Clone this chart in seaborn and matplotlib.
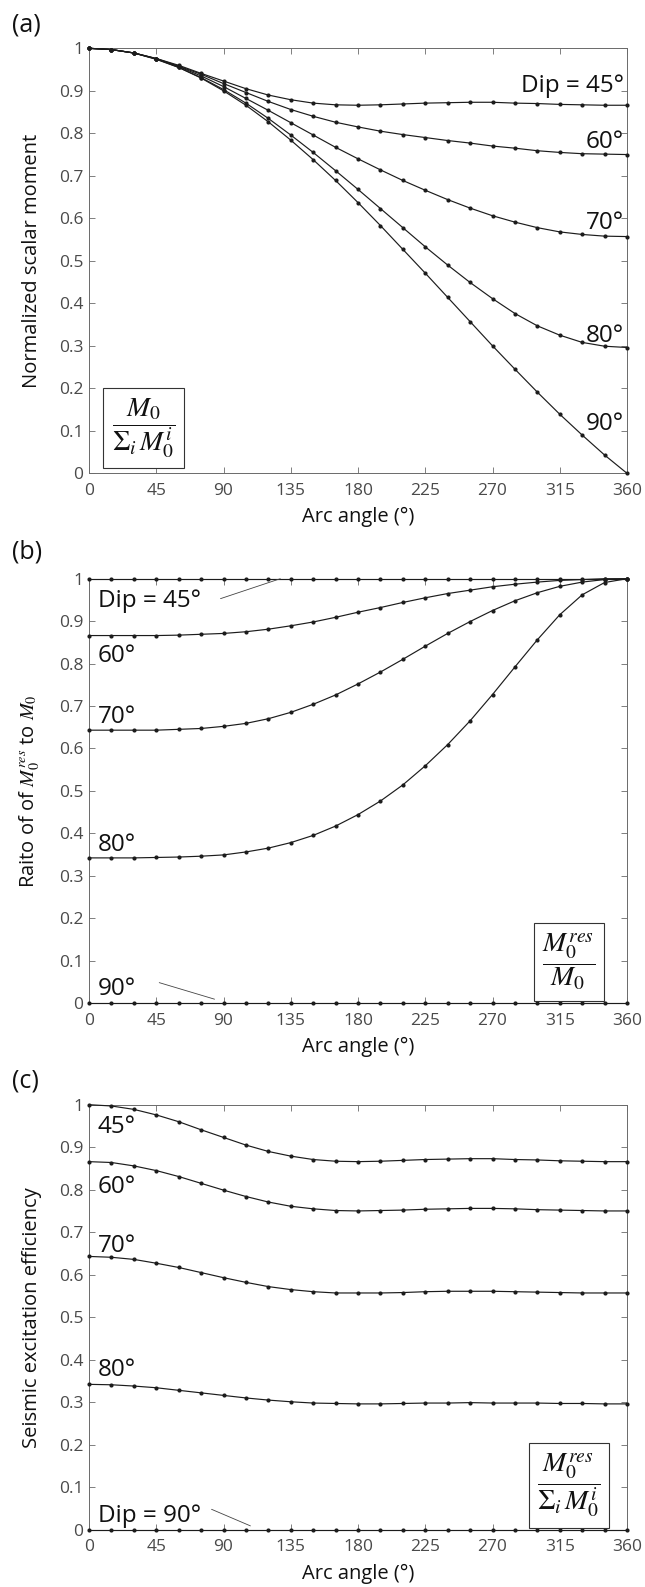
import numpy as np
import pandas as pd
import matplotlib
matplotlib.use("Agg")
import matplotlib.pyplot as plt
import seaborn as sns

# ---------------- data ----------------
arc_angle = [0, 15, 30, 45, 60, 75, 90, 105, 120, 135, 150, 165, 180,
             195, 210, 225, 240, 255, 270, 285, 300, 315, 330, 345, 360]
dips = [45, 60, 70, 80, 90]

# (a) normalized scalar moment
moment_dip45 = [1.000, 0.997, 0.989, 0.976, 0.960, 0.941, 0.923, 0.905, 0.890, 0.879, 0.871, 0.867, 0.866,
                0.867, 0.869, 0.871, 0.872, 0.873, 0.873, 0.871, 0.870, 0.868, 0.867, 0.866, 0.866]
moment_dip60 = [1.000, 0.997, 0.989, 0.976, 0.958, 0.939, 0.917, 0.896, 0.875, 0.856, 0.840, 0.826, 0.815,
                0.805, 0.797, 0.790, 0.783, 0.777, 0.770, 0.765, 0.759, 0.755, 0.752, 0.751, 0.750]
moment_dip70 = [1.000, 0.997, 0.989, 0.975, 0.957, 0.935, 0.910, 0.882, 0.854, 0.825, 0.796, 0.767, 0.740,
                0.714, 0.689, 0.666, 0.644, 0.624, 0.606, 0.591, 0.578, 0.568, 0.562, 0.558, 0.557]
moment_dip80 = [1.000, 0.997, 0.989, 0.975, 0.955, 0.931, 0.903, 0.871, 0.835, 0.796, 0.755, 0.712, 0.668,
                0.623, 0.578, 0.533, 0.490, 0.449, 0.411, 0.376, 0.347, 0.325, 0.308, 0.299, 0.296]
moment_dip90 = [1.000, 0.997, 0.989, 0.974, 0.955, 0.930, 0.900, 0.866, 0.827, 0.784, 0.738, 0.689, 0.637,
                0.583, 0.527, 0.471, 0.414, 0.357, 0.300, 0.245, 0.191, 0.139, 0.090, 0.043, 0.000]

# (b) ratio of M0_res to M0
ratio_dip45 = [1.000, 1.000, 1.000, 1.000, 1.000, 1.000, 1.000, 1.000, 1.000, 1.000, 1.000, 1.000, 1.000,
               1.000, 1.000, 1.000, 1.000, 1.000, 1.000, 1.000, 1.000, 1.000, 1.000, 1.000, 1.000]
ratio_dip60 = [0.866, 0.866, 0.866, 0.866, 0.867, 0.869, 0.871, 0.875, 0.881, 0.889, 0.898, 0.909, 0.921,
               0.932, 0.944, 0.955, 0.965, 0.973, 0.981, 0.987, 0.992, 0.996, 0.998, 1.000, 1.000]
ratio_dip70 = [0.643, 0.643, 0.643, 0.643, 0.645, 0.647, 0.652, 0.659, 0.670, 0.685, 0.704, 0.726, 0.752,
               0.780, 0.810, 0.841, 0.871, 0.899, 0.925, 0.948, 0.967, 0.982, 0.992, 0.998, 1.000]
ratio_dip80 = [0.342, 0.342, 0.342, 0.343, 0.344, 0.346, 0.349, 0.356, 0.365, 0.378, 0.395, 0.417, 0.444,
               0.476, 0.514, 0.559, 0.609, 0.665, 0.727, 0.792, 0.856, 0.915, 0.962, 0.991, 1.000]
ratio_dip90 = [0.000, 0.000, 0.000, 0.000, 0.000, 0.000, 0.000, 0.000, 0.000, 0.000, 0.000, 0.000, 0.000,
               0.000, 0.000, 0.000, 0.000, 0.000, 0.000, 0.000, 0.000, 0.000, 0.000, 0.000, 0.000]

# (c) seismic excitation efficiency
eff_dip45 = [1.000, 0.997, 0.989, 0.976, 0.960, 0.941, 0.923, 0.905, 0.890, 0.879, 0.871, 0.867, 0.866,
             0.867, 0.869, 0.871, 0.872, 0.873, 0.873, 0.871, 0.870, 0.868, 0.867, 0.866, 0.866]
eff_dip60 = [0.866, 0.864, 0.856, 0.845, 0.831, 0.815, 0.799, 0.784, 0.771, 0.761, 0.755, 0.751, 0.750,
             0.751, 0.752, 0.754, 0.755, 0.756, 0.756, 0.755, 0.753, 0.752, 0.751, 0.750, 0.750]
eff_dip70 = [0.643, 0.641, 0.636, 0.627, 0.617, 0.605, 0.593, 0.582, 0.572, 0.565, 0.560, 0.557, 0.557,
             0.557, 0.558, 0.560, 0.561, 0.561, 0.561, 0.560, 0.559, 0.558, 0.557, 0.557, 0.557]
eff_dip80 = [0.342, 0.341, 0.338, 0.334, 0.328, 0.322, 0.316, 0.310, 0.305, 0.301, 0.298, 0.297, 0.296,
             0.296, 0.297, 0.298, 0.298, 0.299, 0.298, 0.298, 0.298, 0.297, 0.297, 0.296, 0.296]
eff_dip90 = [0.000, 0.000, 0.000, 0.000, 0.000, 0.000, 0.000, 0.000, 0.000, 0.000, 0.000, 0.000, 0.000,
             0.000, 0.000, 0.000, 0.000, 0.000, 0.000, 0.000, 0.000, 0.000, 0.000, 0.000, 0.000]

x_ticks = [0, 45, 90, 135, 180, 225, 270, 315, 360]
y_ticks = [0, 0.1, 0.2, 0.3, 0.4, 0.5, 0.6, 0.7, 0.8, 0.9, 1]
y_tick_labels = ["0", "0.1", "0.2", "0.3", "0.4", "0.5", "0.6", "0.7", "0.8", "0.9", "1"]

# ---------------- style ----------------
sns.set_style("ticks")
plt.rcParams["font.family"] = ["Open Sans", "DejaVu Sans"]
plt.rcParams["mathtext.fontset"] = "stix"

W, H = 645, 1587
fig = plt.figure(figsize=(W / 100, H / 100), dpi=100)

ax_left = 89 / W
ax_w = 538 / W
panel_px = [(48.3, 473.3), (578.7, 1003.0), (1104.7, 1529.7)]
axes = []
for top, bot in panel_px:
    axes.append(fig.add_axes([ax_left, 1 - bot / H, ax_w, (bot - top) / H]))

LINE_C = "#1c1c1c"
AX_C = "#6a6a6a"
TICK_C = "#4a4a4a"


def long_frame(series):
    rows = []
    for dip, vals in zip(dips, series):
        for a, v in zip(arc_angle, vals):
            rows.append({"arc": a, "value": v, "dip": dip})
    return pd.DataFrame(rows)


panels = [
    [moment_dip45, moment_dip60, moment_dip70, moment_dip80, moment_dip90],
    [ratio_dip45, ratio_dip60, ratio_dip70, ratio_dip80, ratio_dip90],
    [eff_dip45, eff_dip60, eff_dip70, eff_dip80, eff_dip90],
]
ylabels = ["Normalized scalar moment",
           "Raito of of $M_0^{res}$ to $M_0$",
           "Seismic excitation efficiency"]

for ax, series, ylab in zip(axes, panels, ylabels):
    df = long_frame(series)
    sns.lineplot(data=df, x="arc", y="value", hue="dip", units="dip", estimator=None,
                 palette=[LINE_C] * len(dips), marker="o", markersize=3.0,
                 markeredgewidth=0, linewidth=0.85, legend=False, ax=ax,
                 clip_on=False, zorder=3)
    ax.set_xlim(0, 360)
    ax.set_ylim(0, 1)
    ax.set_xticks(x_ticks)
    ax.set_xticklabels([str(t) for t in x_ticks])
    ax.set_yticks(y_ticks)
    ax.set_yticklabels(y_tick_labels)
    ax.tick_params(direction="in", length=4, width=0.6, top=True, right=True,
                   labelsize=12.5, color=AX_C, labelcolor=TICK_C, pad=4)
    ax.tick_params(axis="x", pad=7)
    for sp in ax.spines.values():
        sp.set_visible(True)
        sp.set_color(AX_C)
        sp.set_linewidth(0.7)
    ax.set_xlabel("Arc angle (°)", fontsize=14.5, color="#111", labelpad=6)
    ax.set_ylabel(ylab, fontsize=14.5, color="#111")
    ax.yaxis.set_label_coords(-0.088, 0.5)

ann_fs = 17.5
ann_c = "#111"
ax_a, ax_b, ax_c = axes

box_kw = dict(boxstyle="square,pad=0.3", fc="white", ec="#333", lw=0.8)

# panel (a) labels
ax_a.text(358, 0.897, "Dip = 45°", ha="right", va="baseline", fontsize=ann_fs, color=ann_c)
ax_a.text(358, 0.766, "60°", ha="right", va="baseline", fontsize=ann_fs, color=ann_c)
ax_a.text(358, 0.574, "70°", ha="right", va="baseline", fontsize=ann_fs, color=ann_c)
ax_a.text(358, 0.310, "80°", ha="right", va="baseline", fontsize=ann_fs, color=ann_c)
ax_a.text(358, 0.102, "90°", ha="right", va="baseline", fontsize=ann_fs, color=ann_c)
ax_a.text(36.5, 0.106, r"$\dfrac{M_0}{\Sigma_i\,M_0^i}$", ha="center", va="center",
          fontsize=20, color=ann_c, bbox=box_kw)

# panel (b) labels
ax_b.text(6, 0.933, "Dip = 45°", ha="left", va="baseline", fontsize=ann_fs, color=ann_c)
ax_b.annotate("", xy=(128, 1.0), xytext=(88, 0.953),
              arrowprops=dict(arrowstyle="-", lw=0.6, color="#444", shrinkA=0, shrinkB=0))
ax_b.text(6, 0.804, "60°", ha="left", va="baseline", fontsize=ann_fs, color=ann_c)
ax_b.text(6, 0.659, "70°", ha="left", va="baseline", fontsize=ann_fs, color=ann_c)
ax_b.text(6, 0.358, "80°", ha="left", va="baseline", fontsize=ann_fs, color=ann_c)
ax_b.text(6, 0.019, "90°", ha="left", va="baseline", fontsize=ann_fs, color=ann_c)
ax_b.annotate("", xy=(84, 0.009), xytext=(47, 0.048),
              arrowprops=dict(arrowstyle="-", lw=0.6, color="#444", shrinkA=0, shrinkB=0))
ax_b.text(321, 0.097, r"$\dfrac{M_0^{res}}{M_0}$", ha="center", va="center",
          fontsize=20, color=ann_c, bbox=box_kw)

# panel (c) labels
ax_c.text(6, 0.933, "45°", ha="left", va="baseline", fontsize=ann_fs, color=ann_c)
ax_c.text(6, 0.792, "60°", ha="left", va="baseline", fontsize=ann_fs, color=ann_c)
ax_c.text(6, 0.654, "70°", ha="left", va="baseline", fontsize=ann_fs, color=ann_c)
ax_c.text(6, 0.362, "80°", ha="left", va="baseline", fontsize=ann_fs, color=ann_c)
ax_c.text(6, 0.019, "Dip = 90°", ha="left", va="baseline", fontsize=ann_fs, color=ann_c)
ax_c.annotate("", xy=(108, 0.009), xytext=(82, 0.048),
              arrowprops=dict(arrowstyle="-", lw=0.6, color="#444", shrinkA=0, shrinkB=0))
ax_c.text(321, 0.104, r"$\dfrac{M_0^{res}}{\Sigma_i\,M_0^i}$", ha="center", va="center",
          fontsize=20, color=ann_c, bbox=box_kw)

# panel letters
for lab, ytop in zip(["(a)", "(b)", "(c)"], [12, 540, 1068]):
    fig.text(12 / W, 1 - ytop / H, lab, ha="left", va="top", fontsize=18, color="#111")

fig.savefig("out.png", dpi=100)
